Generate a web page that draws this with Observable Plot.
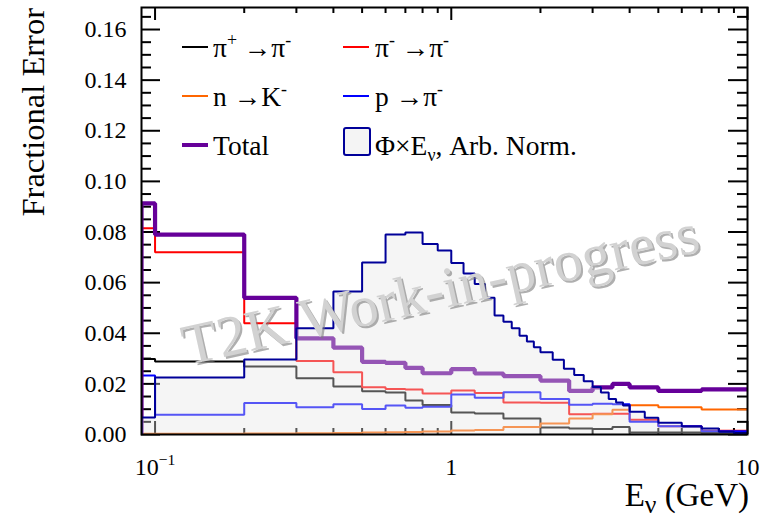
<!DOCTYPE html>
<html>
<head>
<meta charset="utf-8">
<script src="https://cdn.jsdelivr.net/npm/d3@7"></script>
<script src="https://cdn.jsdelivr.net/npm/@observablehq/plot@0.6"></script>
<style>
  html, body { margin: 0; padding: 0; background: #fff; }
  #chart { width: 761px; height: 518px; }
  #chart svg text, #chart svg tspan { font-family: "Liberation Serif", "Times New Roman", serif !important; }
</style>
</head>
<body>
<div id="chart"></div>
<script>
// ---- Error histograms: bin edges (GeV) and fractional errors per bin ----
const errEdges = [0.09, 0.1, 0.2, 0.3, 0.4, 0.5, 0.6, 0.7, 0.8, 1.0, 1.2, 1.5, 2.0, 2.5, 3.0, 3.5, 4.0, 5.0, 7.0, 10.0];
const piPlusToPiMinus  = [0.0298, 0.0288, 0.0269, 0.0222, 0.0190, 0.0171, 0.0166, 0.0134, 0.0117, 0.0087, 0.0083, 0.0063, 0.0028, 0.0024, 0.0022, 0.0030, 0.0008, 0.0008, 0.0006];
const piMinusToPiMinus = [0.0815, 0.0720, 0.0440, 0.0290, 0.0246, 0.0187, 0.0180, 0.0178, 0.0162, 0.0174, 0.0164, 0.0126, 0.0125, 0.0080, 0.0082, 0.0082, 0.0058, 0.0033, 0.0015];
const nToKMinus        = [0.0003, 0.0003, 0.0004, 0.0005, 0.0006, 0.0008, 0.0009, 0.0010, 0.0012, 0.0016, 0.0018, 0.0030, 0.0043, 0.0063, 0.0080, 0.0098, 0.0116, 0.0108, 0.0099];
const pToPiMinus       = [0.0233, 0.0078, 0.0124, 0.0108, 0.0120, 0.0101, 0.0115, 0.0106, 0.0110, 0.0158, 0.0145, 0.0167, 0.0140, 0.0118, 0.0121, 0.0120, 0.0050, 0.0033, 0.0013];
const totalError       = [0.0913, 0.0790, 0.0540, 0.0380, 0.0343, 0.0287, 0.0283, 0.0263, 0.0242, 0.0258, 0.0241, 0.0231, 0.0213, 0.0172, 0.0186, 0.0200, 0.0186, 0.0172, 0.0178];

// ---- Flux x energy (arbitrary normalisation) ----
const fluxEdges = [0.09, 0.1, 0.2, 0.3, 0.4, 0.5, 0.6, 0.7, 0.8, 0.9, 1.0, 1.1, 1.2, 1.3, 1.4, 1.5, 1.6, 1.7, 1.8, 1.9, 2.0,
                   2.2, 2.4, 2.6, 2.8, 3.0, 3.2, 3.4, 3.6, 3.8, 4.0, 4.5, 5.0, 6.0, 7.0, 8.0, 9.0, 10.0];
const fluxTimesE = [0.0067, 0.0225, 0.0296, 0.0420, 0.0565, 0.0680, 0.0790, 0.0798, 0.0753, 0.0727, 0.0678, 0.0636, 0.0595,
                    0.0540, 0.0470, 0.0445, 0.0420, 0.0390, 0.0367, 0.0345, 0.0325, 0.0295, 0.0260, 0.0235, 0.0210, 0.0188,
                    0.0166, 0.0140, 0.0126, 0.0115, 0.0090, 0.0066, 0.0046, 0.0032, 0.0024, 0.0011, 0.0004];

// ---- Axes ----
const xDomain = [0.09, 10];
const yDomain = [0, 0.1687];
const yMajorTicks = [0, 0.02, 0.04, 0.06, 0.08, 0.10, 0.12, 0.14, 0.16];
const yMinorTicks = d3.range(0, 0.1686, 0.005).filter(v => Math.abs(v / 0.02 - Math.round(v / 0.02)) > 1e-6);
const xMajorTicks = [0.1, 1, 10];
const xMinorTicks = [0.2, 0.3, 0.4, 0.5, 0.6, 0.7, 0.8, 0.9, 2, 3, 4, 5, 6, 7, 8, 9];
const xTickLabels = ["10^-1", "1", "10"];

const W = 761, H = 518, mL = 141, mR = 14, mT = 7, mB = 84;
const plotW = W - mL - mR, plotH = H - mT - mB;

// histogram outline as step points, starting from zero at the first edge
function steps(edges, values) {
  const pts = [{x: edges[0], y: 0}];
  values.forEach((v, i) => pts.push({x: edges[i], y: v}));
  pts.push({x: edges[edges.length - 1], y: values[values.length - 1]});
  return pts;
}

const series = [
  {values: piPlusToPiMinus, color: "#000000", width: 2},
  {values: piMinusToPiMinus, color: "#ff0000", width: 2},
  {values: nToKMinus, color: "#ff6600", width: 2},
  {values: pToPiMinus, color: "#0000ff", width: 2},
  {values: totalError, color: "#660099", width: 4.2}
];
const fluxPts = steps(fluxEdges, fluxTimesE);

const tickStyle = {stroke: "#000", strokeWidth: 2};

const svg = Plot.plot({
  width: W, height: H,
  marginLeft: mL, marginRight: mR, marginTop: mT, marginBottom: mB,
  style: {background: "#fff", overflow: "visible"},
  x: {type: "log", domain: xDomain, axis: null},
  y: {domain: yDomain, axis: null},
  marks: [
    // inward ticks on all four sides
    Plot.tickY(yMajorTicks, {y: d => d, insetRight: plotW - 19, ...tickStyle}),
    Plot.tickY(yMajorTicks, {y: d => d, insetLeft: plotW - 19, ...tickStyle}),
    Plot.tickY(yMinorTicks, {y: d => d, insetRight: plotW - 10, ...tickStyle}),
    Plot.tickY(yMinorTicks, {y: d => d, insetLeft: plotW - 10, ...tickStyle}),
    Plot.tickX(xMajorTicks, {x: d => d, insetTop: plotH - 13, ...tickStyle}),
    Plot.tickX(xMajorTicks, {x: d => d, insetBottom: plotH - 13, ...tickStyle}),
    Plot.tickX(xMinorTicks, {x: d => d, insetTop: plotH - 6, ...tickStyle}),
    Plot.tickX(xMinorTicks, {x: d => d, insetBottom: plotH - 6, ...tickStyle}),
    // error histograms
    ...series.map(s => Plot.line(steps(errEdges, s.values), {
      x: "x", y: "y", curve: "step-after", stroke: s.color, strokeWidth: s.width,
      strokeLinejoin: "miter", strokeLinecap: "butt", clip: true
    })),
    // flux shape, translucent fill over the error lines
    Plot.areaY(fluxPts, {x: "x", y: "y", curve: "step-after", fill: "#e4e4e4", fillOpacity: 0.373, clip: true}),
    Plot.line(fluxPts, {x: "x", y: "y", curve: "step-after", stroke: "#000099", strokeWidth: 2,
      strokeLinejoin: "miter", clip: true}),
    Plot.frame({stroke: "#000", strokeWidth: 2}),
    // tick labels
    Plot.text(yMajorTicks, {y: d => d, text: d => d3.format(".2f")(d), frameAnchor: "left", dx: -15,
      textAnchor: "end", lineAnchor: "middle", fontSize: 24, fill: "#000"}),
    Plot.text(xMajorTicks, {x: d => d, text: (d, i) => xTickLabels[i], frameAnchor: "bottom", dy: 40,
      textAnchor: "middle", lineAnchor: "bottom", fontSize: 24, fill: "#000"}),
    // watermark
    Plot.text(["T2K Work-in-progress"], {frameAnchor: "middle", dx: -2, dy: 71, rotate: -12.5, fontSize: 58,
      fill: "#7a7a7a", fillOpacity: 0.6, textAnchor: "middle", lineAnchor: "middle"}),
    Plot.text(["T2K Work-in-progress"], {frameAnchor: "middle", dx: -4, dy: 69, rotate: -12.5, fontSize: 58,
      fill: "#d2d2d2", textAnchor: "middle", lineAnchor: "middle"})
  ]
});

document.getElementById("chart").appendChild(svg);
const root = d3.select(svg);

// rich text with super/subscripts: parts = [[text, "sup"|"sub"|null], ...]
function rich(sel, parts, size, scriptScale = 0.65) {
  let shift = 0;
  parts.forEach(([t, kind]) => {
    const target = kind === "sup" ? -0.38 * size : kind === "sub" ? 0.22 * size : 0;
    sel.append("tspan")
      .attr("dy", target - shift)
      .attr("font-size", kind ? size * scriptScale : size)
      .text(t);
    shift = target;
  });
}

// 10^-1 tick label
root.selectAll("text").filter(function () { return this.textContent === "10^-1"; })
  .each(function () {
    const t = d3.select(this);
    t.text("");
    rich(t, [["10", null], ["\u22121", "sup"]], 24);
  });

// axis titles
root.append("text")
  .attr("transform", "translate(44,8) rotate(-90)")
  .attr("text-anchor", "end")
  .attr("font-size", 32.5)
  .text("Fractional Error");

const xTitle = root.append("text")
  .attr("x", 749).attr("y", 506)
  .attr("text-anchor", "end")
  .attr("font-size", 33);
rich(xTitle, [["E", null], ["\u03bd", "sub"], [" (GeV)", null]], 33, 0.78);

// legend
const LFS = 27.5;
const legend = root.append("g").attr("font-size", LFS).attr("text-anchor", "start");
const legendItems = [
  {parts: [["\u03c0", null], ["+", "sup"], [" \u2192\u03c0", null], ["-", "sup"]], color: "#000000", w: 2, col: 0, row: 0},
  {parts: [["\u03c0", null], ["-", "sup"], [" \u2192\u03c0", null], ["-", "sup"]], color: "#ff0000", w: 2, col: 1, row: 0},
  {parts: [["n \u2192K", null], ["-", "sup"]], color: "#ff6600", w: 2, col: 0, row: 1},
  {parts: [["p \u2192\u03c0", null], ["-", "sup"]], color: "#0000ff", w: 2, col: 1, row: 1},
  {parts: [["Total", null]], color: "#660099", w: 4, col: 0, row: 2},
  {parts: [["\u03a6\u00d7E", null], ["\u03bd", "sub"], [", Arb. Norm.", null]], box: true, col: 1, row: 2}
];
const colX = [182, 343], textX = [213, 375], rowY = [47, 96, 145];
legendItems.forEach(it => {
  const x0 = colX[it.col], y0 = rowY[it.row];
  if (it.box) {
    legend.append("rect").attr("x", x0 + 1).attr("y", y0 - 17).attr("width", 26).attr("height", 27)
      .attr("rx", 2).attr("fill", "#f4f4f4").attr("stroke", "#000099").attr("stroke-width", 2);
  } else {
    legend.append("line").attr("x1", x0).attr("x2", x0 + 26).attr("y1", y0).attr("y2", y0)
      .attr("stroke", it.color).attr("stroke-width", it.w);
  }
  const t = legend.append("text").attr("x", textX[it.col]).attr("y", y0 + 9.5);
  rich(t, it.parts, LFS);
});
</script>
</body>
</html>
